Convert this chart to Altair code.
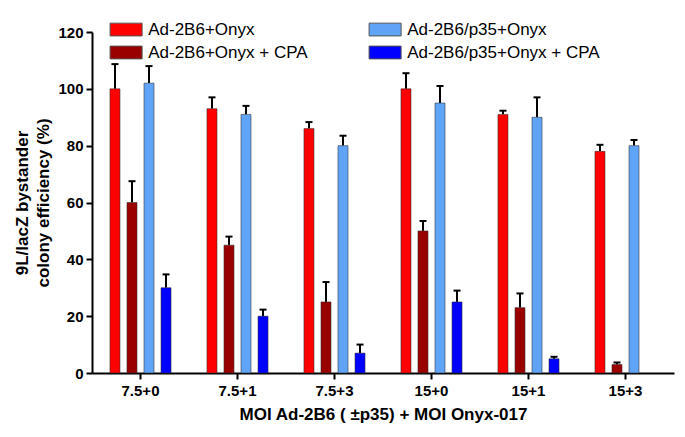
import altair as alt
import pandas as pd

groups = ["7.5+0", "7.5+1", "7.5+3", "15+0", "15+1", "15+3"]
series = ["Ad-2B6+Onyx", "Ad-2B6+Onyx + CPA", "Ad-2B6/p35+Onyx", "Ad-2B6/p35+Onyx + CPA"]
colors = {"Ad-2B6+Onyx": "#FF0000", "Ad-2B6+Onyx + CPA": "#990000",
          "Ad-2B6/p35+Onyx": "#5FA4F7", "Ad-2B6/p35+Onyx + CPA": "#0000FF"}

red = [100, 93, 86, 100, 91, 78]
red_err = [8.7, 4.0, 2.3, 5.5, 1.3, 2.3]
darkred = [60, 45, 25, 50, 23, 3]
darkred_err = [7.5, 3.0, 7.0, 3.5, 5.0, 0.7]
lightblue = [102, 91, 80, 95, 90, 80]
lightblue_err = [6.0, 3.0, 3.5, 6.0, 7.0, 2.0]
blue = [30, 20, 7, 25, 5, None]
blue_err = [4.7, 2.3, 3.0, 4.0, 0.7, None]

rows = []
for s, vals, errs in zip(series, [red, darkred, lightblue, blue],
                         [red_err, darkred_err, lightblue_err, blue_err]):
    for g, v, e in zip(groups, vals, errs):
        if v is None:
            continue
        rows.append({"group": g, "series": s, "value": v, "upper": v + e})
df = pd.DataFrame(rows)

x = alt.X("group:N", sort=groups,
          scale=alt.Scale(paddingInner=0.3, paddingOuter=0.15),
          axis=alt.Axis(title="MOI Ad-2B6 ( ±p35) + MOI Onyx-017", labelAngle=0,
                        labelPadding=4, titlePadding=8, titleFontSize=17))
xo = alt.XOffset("series:N", sort=series,
                 scale=alt.Scale(paddingInner=0.41, paddingOuter=0.2))
y = alt.Y("value:Q",
          scale=alt.Scale(domain=[0, 120], nice=False),
          axis=alt.Axis(values=[0, 20, 40, 60, 80, 100, 120],
                        title=["9L/lacZ bystander", "colony efficiency (%)"],
                        titlePadding=5, titleFontSize=17, titleLineHeight=21, labelPadding=3))
color = alt.Color("series:N",
                  scale=alt.Scale(domain=series, range=[colors[s] for s in series]),
                  legend=alt.Legend(title=None, orient="none", legendX=25.6, legendY=-11,
                                    columns=2, columnPadding=59, rowPadding=5,
                                    symbolType="M-2.5,-1H2.5V1H-2.5Z", symbolSize=164,
                                    symbolStrokeWidth=1, symbolStrokeColor="#555",
                                    symbolOpacity=1, labelFont="Liberation Sans",
                                    labelFontSize=17, labelColor="black", labelOffset=13.6,
                                    labelLimit=400))

base = alt.Chart(df)
bars = base.mark_bar(stroke="#333", strokeWidth=0.8, strokeOpacity=0.7, opacity=1).encode(
    x=x, xOffset=xo, y=y, color=color)
rules = base.mark_rule(color="black", strokeWidth=2).encode(
    x=x, xOffset=xo, y="value:Q", y2="upper:Q")
caps = base.mark_tick(color="black", thickness=2, size=7, opacity=1).encode(
    x=x, xOffset=xo, y="upper:Q")

chart = alt.layer(rules, caps, bars).properties(
    width=582, height=341,
    autosize=alt.AutoSizeParams(type="none"),
    padding={"left": 84, "top": 24, "right": 3, "bottom": 60},
).configure_view(stroke=None).configure_axis(
    domainColor="black", domainWidth=2, tickColor="black", tickWidth=2, tickSize=6,
    labelFont="Liberation Sans", labelFontWeight="bold", labelFontSize=15, labelColor="black",
    titleFont="Liberation Sans", titleFontWeight="bold", titleColor="black", grid=False,
)

chart.save("out.html", embed_options={"renderer": "svg", "actions": False})
